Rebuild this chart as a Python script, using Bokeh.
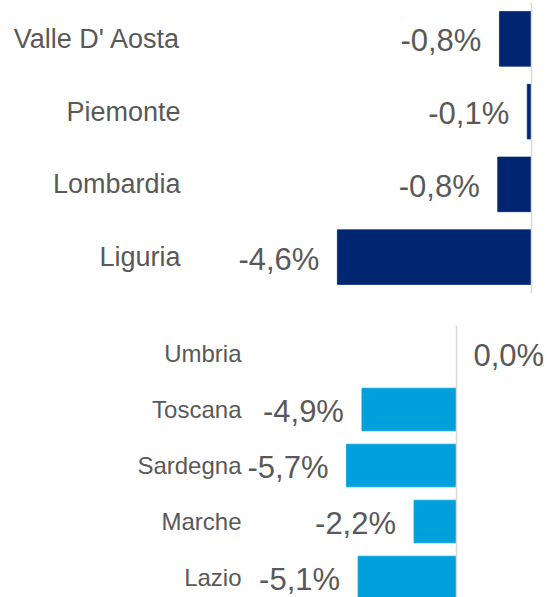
from bokeh.plotting import figure
from bokeh.models import ColumnDataSource, Range1d, Span
from bokeh.layouts import column
from bokeh.core.properties import value
from bokeh.embed import file_html
from bokeh.resources import INLINE

# ---- data ----
north_regions = ["Valle D' Aosta", "Piemonte", "Lombardia", "Liguria"]
north_values = [-0.76, -0.10, -0.80, -4.60]

centre_regions = ["Umbria", "Toscana", "Sardegna", "Marche", "Lazio"]
centre_values = [0.0, -4.9, -5.7, -2.2, -5.1]

FONT = "Liberation Sans"
TEXT_COLOR = "#595959"
W = 547


def fmt(v):
    return ("%.1f" % v).replace(".", ",") + "%"


def make_panel(regions, values, color, height, px_per_unit, zero_px,
               label_right_px, y_range, mb_top, mb_bottom, cat_font, bar_h):
    idx = list(range(len(regions)))
    x_start = -zero_px / px_per_unit
    x_end = (W - zero_px) / px_per_unit
    label_x = (label_right_px - zero_px) / px_per_unit
    src = ColumnDataSource(dict(
        y=idx,
        left=values,
        right=[0] * len(values),
        label=[fmt(v) for v in values],
        xoff=[-18 if v < 0 else 17 for v in values],
        align=["right" if v < 0 else "left" for v in values],
    ))
    cat_src = ColumnDataSource(dict(y=idx, name=regions,
                                    x=[label_x] * len(regions)))
    p = figure(width=W, height=height, output_backend="svg",
               toolbar_location=None,
               x_range=Range1d(x_start, x_end), y_range=y_range,
               min_border_left=0, min_border_right=0,
               min_border_top=mb_top, min_border_bottom=mb_bottom)
    p.hbar(y="y", left="left", right="right", height=bar_h, source=src,
           fill_color=color, line_color=color, line_width=0.8)
    p.add_layout(Span(location=0, dimension="height",
                      line_color="#D9D9D9", line_width=1.5))
    p.text(x="left", y="y", text="label", source=src,
           x_offset="xoff", y_offset=2, text_align="align",
           text_baseline="middle", text_font=value(FONT),
           text_font_size="31px", text_color=TEXT_COLOR)
    p.text(x="x", y="y", text="name", source=cat_src,
           text_align="right", text_baseline="middle",
           text_font=value(FONT), text_font_size=cat_font,
           text_color=TEXT_COLOR)
    p.xaxis.visible = False
    p.yaxis.visible = False
    p.xgrid.visible = False
    p.ygrid.visible = False
    p.outline_line_color = None
    return p


top = make_panel(north_regions, north_values, "#002672", height=300,
                 px_per_unit=42.2, zero_px=531, label_right_px=180,
                 y_range=Range1d(3.5, -0.5), mb_top=2, mb_bottom=7,
                 cat_font="27px", bar_h=0.75)

bottom = make_panel(centre_regions, centre_values, "#00A0DC", height=297,
                    px_per_unit=19.3, zero_px=456, label_right_px=241,
                    y_range=Range1d(4.357, -0.5), mb_top=25, mb_bottom=0,
                    cat_font="24px", bar_h=0.76)

layout = column(top, bottom, spacing=0)

open("out.html", "w").write(file_html(layout, INLINE))
